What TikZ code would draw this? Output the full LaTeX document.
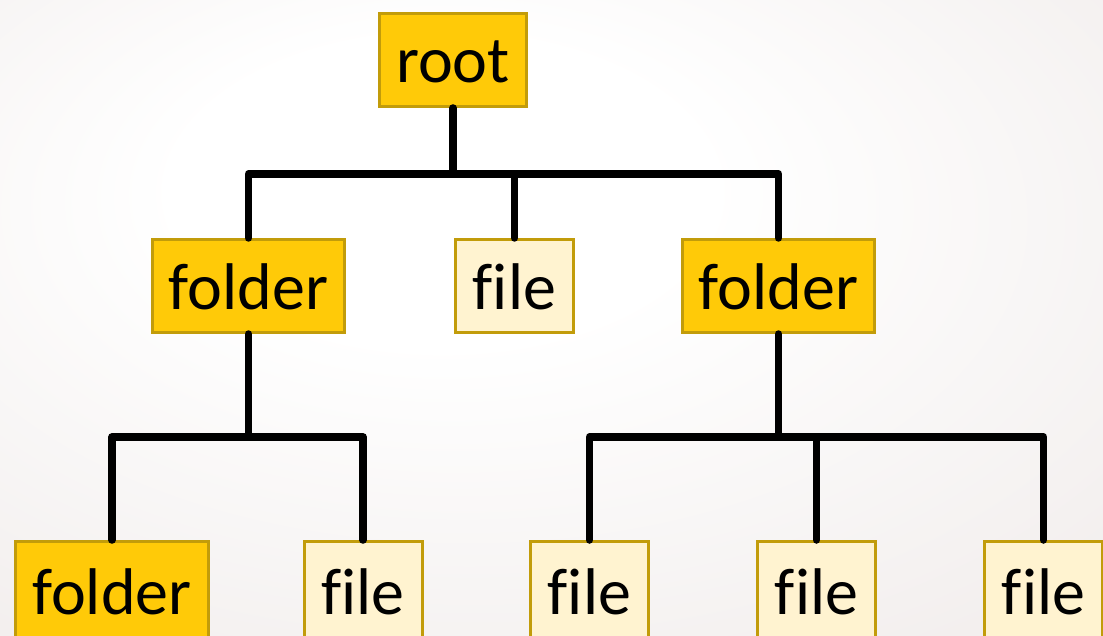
\documentclass[tikz,border=0pt]{standalone}
\usepackage{fontspec}
\setmainfont[Ligatures=NoCommon]{Carlito}
\definecolor{dirfill}{HTML}{FFCA08}
\definecolor{filefill}{HTML}{FFF3D0}
\definecolor{boxline}{HTML}{C29C0A}
\definecolor{bgouter}{HTML}{E2D9D7}
\pgfdeclareradialshading{slidebg}{\pgfpoint{-6bp}{12bp}}{%
  color(0bp)=(white); color(12bp)=(white); color(72bp)=(bgouter)}
\tikzset{
  treebox/.style={draw=boxline, line width=3pt, minimum height=93pt,
    text height=46pt, text depth=0pt, inner sep=0pt,
    font=\fontsize{66}{70}\selectfont},
  dirbox/.style={treebox, fill=dirfill},
  filebox/.style={treebox, fill=filefill, minimum width=118pt},
  lowbox/.style={minimum height=99pt},
  branch/.style={line width=7.5pt, line cap=round, line join=round}
}
\begin{document}
\begin{tikzpicture}[x=1pt,y=-1pt]
  % Page frame and background
  \useasboundingbox (0,0) rectangle (1103,636);
  \clip (0,0) rectangle (1103,636);
  \shade[shading=slidebg] (0,0) rectangle (1103,636);

  % Top level
  \node[dirbox, minimum width=147pt] (root) at (453,60) {root};

  % Second level
  \node[dirbox, minimum width=192pt] (dirA) at (248.5,286) {folder};
  \node[filebox] (fileA) at (514.5,286) {file};
  \node[dirbox, minimum width=192pt] (dirB) at (778.5,286) {folder};

  % Third level (cut by the lower edge)
  \node[dirbox, lowbox, minimum width=193pt] (dirC) at (112,591) {folder};
  \node[filebox, lowbox] (fileB) at (363,591) {file};
  \node[filebox, lowbox] (fileC) at (589.5,591) {file};
  \node[filebox, lowbox] (fileD) at (816.5,591) {file};
  \node[filebox, lowbox] (fileE) at (1043.5,591) {file};

  % Junction points of the branches
  \coordinate (busA) at (453,174);
  \coordinate (busB) at (248.5,437);
  \coordinate (busC) at (778.5,437);

  % Branches from root
  \draw[branch] (root.south) -- (busA);
  \draw[branch] (dirA.north) |- (busA) -| (dirB.north);
  \draw[branch] (fileA.north) -- (fileA.north |- busA);

  % Branches from the left folder
  \draw[branch] (dirA.south) -- (busB);
  \draw[branch] (dirC.north) |- (busB) -| (fileB.north);

  % Branches from the right folder
  \draw[branch] (dirB.south) -- (busC);
  \draw[branch] (fileC.north) |- (busC) -| (fileE.north);
  \draw[branch] (fileD.north) -- (fileD.north |- busC);
\end{tikzpicture}
\end{document}
